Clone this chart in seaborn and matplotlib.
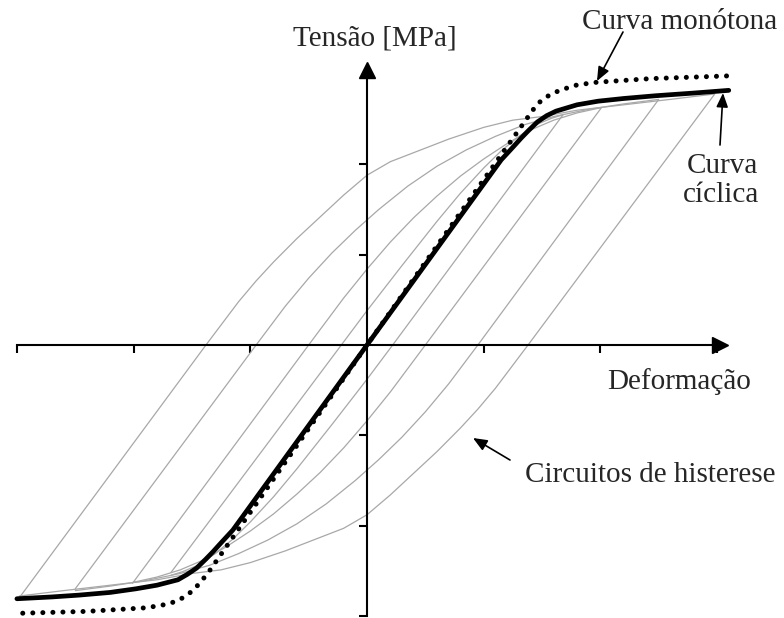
import pandas as pd
import matplotlib.pyplot as plt
import seaborn as sns

# cyclic stress-strain curve (thick black)
cyc_x = [-3.00, -2.70, -2.47, -2.20, -1.98, -1.80, -1.62, -1.54, -1.46, -1.38,
         -1.32, -1.25, -1.15, 0.0,
         1.15, 1.25, 1.32, 1.38, 1.46, 1.54, 1.62, 1.80, 1.98, 2.20, 2.47,
         2.80, 3.10]
cyc_y = [-2.81, -2.79, -2.77, -2.74, -2.70, -2.66, -2.60, -2.54, -2.47, -2.37,
         -2.29, -2.19, -2.05, 0.0,
         2.05, 2.19, 2.29, 2.37, 2.47, 2.54, 2.59, 2.66, 2.70, 2.73, 2.76,
         2.79, 2.82]

# monotonic curve (dotted)
mono_x = [-2.95, -2.40, -1.89, -1.71, -1.62, -1.54, -1.47, -1.41, -1.36, 0.0,
          1.42, 1.47, 1.54, 1.65, 1.80, 1.97, 2.43, 3.09]
mono_y = [-2.97, -2.95, -2.91, -2.87, -2.83, -2.77, -2.69, -2.60, -2.52, 0.0,
          2.60, 2.68, 2.75, 2.82, 2.88, 2.91, 2.95, 2.98]

# hysteresis loops: rising branch, lower tip -> upper tip
loop1_x = [-1.68, -0.22, 0.0, 0.3, 0.6, 0.8, 1.0, 1.15, 1.30, 1.45, 1.58, 1.68]
loop1_y = [-2.52, 0.0, 0.38, 0.88, 1.37, 1.68, 1.96, 2.15, 2.31, 2.44, 2.51, 2.55]
loop2_x = [-2.01, -0.50, -0.2, 0.0, 0.2, 0.4, 0.6, 0.8, 1.0, 1.2, 1.4, 1.6,
           1.8, 2.01]
loop2_y = [-2.64, 0.0, 0.52, 0.84, 1.14, 1.41, 1.65, 1.87, 2.06, 2.23, 2.38,
           2.49, 2.57, 2.63]
loop3_x = [-2.50, -0.95, -0.70, -0.50, -0.30, -0.10, 0.10, 0.35, 0.60, 0.85,
           1.10, 1.35, 1.60, 1.90, 2.20, 2.50]
loop3_y = [-2.70, 0.0, 0.43, 0.74, 1.02, 1.27, 1.50, 1.76, 1.98, 2.16,
           2.31, 2.44, 2.53, 2.61, 2.67, 2.72]
loop4_x = [-2.98, -1.38, -1.10, -0.95, -0.80, -0.60, -0.40, -0.20, 0.0, 0.20,
           0.42, 0.70, 1.00, 1.25, 1.50, 1.80, 2.20, 2.60, 2.98]
loop4_y = [-2.80, 0.0, 0.48, 0.71, 0.92, 1.18, 1.42, 1.66, 1.88, 2.03,
           2.14, 2.28, 2.41, 2.49, 2.53, 2.60, 2.66, 2.72, 2.78]

x_ticks = [-3, -2, -1, 1, 2, 3]
y_ticks = [-3, -2, -1, 1, 2]

sns.set_style('white')
plt.rcParams['font.family'] = ['Liberation Serif', 'DejaVu Serif']

# the falling branch is the rising one turned through the origin
rows = []
for k, (lx, ly) in enumerate([(loop1_x, loop1_y), (loop2_x, loop2_y),
                              (loop3_x, loop3_y), (loop4_x, loop4_y)]):
    xs = list(lx) + [-v for v in lx][1:]
    ys = list(ly) + [-v for v in ly][1:]
    for i, (a, b) in enumerate(zip(xs, ys)):
        rows.append({'loop': k, 'order': i, 'x': a, 'y': b})
loops = pd.DataFrame(rows)

fig = plt.figure(figsize=(7.84, 6.18), dpi=100)
ax = fig.add_axes([0, 0, 1, 1])

sns.lineplot(data=loops, x='x', y='y', units='loop', estimator=None, sort=False,
             color='#a8a8a8', lw=0.9, ax=ax)
sns.lineplot(x=cyc_x, y=cyc_y, sort=False, color='black', lw=3.4,
             solid_joinstyle='round', ax=ax)
sns.lineplot(x=mono_x, y=mono_y, sort=False, color='black', lw=3.6,
             linestyle=(0, (0.01, 2.0)), dash_capstyle='round', ax=ax)

# pixel grid: origin at (367, 345), 116.7 px per x unit, 90.3 px per y unit
ax.set_xlim(-367 / 116.7, (784 - 367) / 116.7)
ax.set_ylim((345 - 618) / 90.3, 345 / 90.3)
ax.set_xlabel('')
ax.set_ylabel('')

for s in ['top', 'right']:
    ax.spines[s].set_visible(False)
ax.spines['left'].set_position(('data', 0))
ax.spines['bottom'].set_position(('data', 0))
ax.spines['left'].set_bounds(-3.0, 3.08)
ax.spines['bottom'].set_bounds(-3.0, 3.05)
for s in ['left', 'bottom']:
    ax.spines[s].set_linewidth(1.5)
    ax.spines[s].set_color('black')
ax.set_xticks(x_ticks)
ax.set_yticks(y_ticks)
ax.tick_params(bottom=True, left=True, direction='out', length=6, width=1.5,
               color='black', labelbottom=False, labelleft=False)

ax.plot([3.025], [0], marker='>', ms=11, color='black', clip_on=False)
ax.plot([0], [3.04], marker='^', ms=11, color='black', clip_on=False)


def px(x, y):
    return ((x - 367) / 116.7, (345 - y) / 90.3)


def fr(x, y):
    return (x / 784, 1 - y / 618)


fs = 21
ax.text(*fr(375, 45), 'Tensão [MPa]', fontsize=fs, ha='center', va='baseline',
        transform=ax.transAxes)
ax.text(*fr(582, 29), 'Curva monótona', fontsize=fs, ha='left', va='baseline',
        transform=ax.transAxes)
ax.text(*fr(722, 173), 'Curva', fontsize=fs, ha='center', va='baseline',
        transform=ax.transAxes)
ax.text(*fr(721, 202), 'cíclica', fontsize=fs, ha='center', va='baseline',
        transform=ax.transAxes)
ax.text(*fr(607, 389), 'Deformação', fontsize=fs, ha='left', va='baseline',
        transform=ax.transAxes)
ax.text(*fr(525, 482), 'Circuitos de histerese', fontsize=fs, ha='left',
        va='baseline', transform=ax.transAxes)

arrow = dict(arrowstyle='-|>,head_length=0.6,head_width=0.25', lw=1.2,
             color='black', shrinkA=0, shrinkB=0, mutation_scale=14)
ax.annotate('', xy=px(597, 81), xytext=px(623, 32), arrowprops=arrow)
ax.annotate('', xy=px(723, 93), xytext=px(720, 145), arrowprops=arrow)
ax.annotate('', xy=px(473, 438), xytext=px(510, 460), arrowprops=arrow)

fig.savefig('out.png', dpi=100)
plt.close(fig)
